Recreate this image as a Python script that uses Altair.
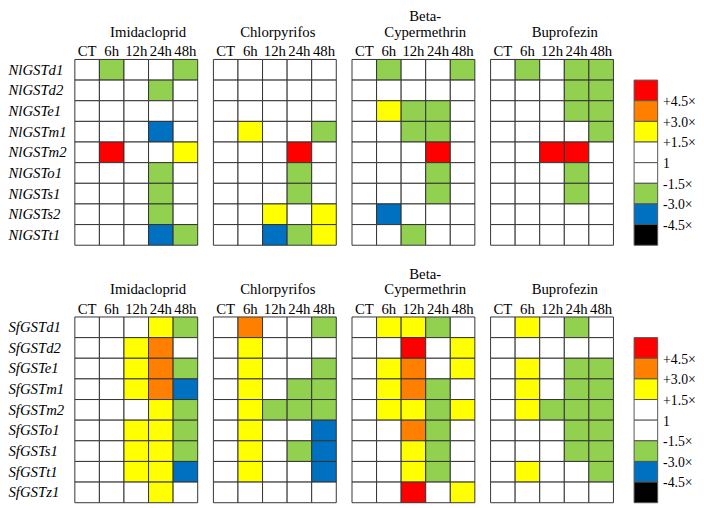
import json
import altair as alt
import pandas as pd

FONT = "Liberation Serif"

times = ["CT", "6h", "12h", "24h", "48h"]
treatment_titles = [["Imidacloprid"], ["Chlorpyrifos"], ["Beta-", "Cypermethrin"], ["Buprofezin"]]
title_dx = [12, 3, 12, 13]

nl_genes = ["NlGSTd1", "NlGSTd2", "NlGSTe1", "NlGSTm1", "NlGSTm2",
            "NlGSTo1", "NlGSTs1", "NlGSTs2", "NlGSTt1"]
sf_genes = ["SfGSTd1", "SfGSTd2", "SfGSTe1", "SfGSTm1", "SfGSTm2",
            "SfGSTo1", "SfGSTs1", "SfGSTt1", "SfGSTz1"]

# fold-change class per cell (CT, 6h, 12h, 24h, 48h):
# R >= +4.5x, O +3.0x, Y +1.5x, W unchanged, G -1.5x, B -3.0x, K -4.5x
nl_imidacloprid = ["WGWWG", "WWWGW", "WWWWW", "WWWBW", "WRWWY", "WWWGW", "WWWGW", "WWWGW", "WWWBG"]
nl_chlorpyrifos = ["WWWWW", "WWWWW", "WWWWW", "WYWWG", "WWWRW", "WWWGW", "WWWGW", "WWYWY", "WWBGY"]
nl_betacyper = ["WGWWG", "WWWWW", "WYGGW", "WWGGW", "WWWRW", "WWWGW", "WWWGW", "WBWWW", "WWGWW"]
nl_buprofezin = ["WGWGG", "WWWGG", "WWWGG", "WWWWG", "WWRRW", "WWWGW", "WWWGW", "WWWWW", "WWWWW"]

sf_imidacloprid = ["WWWYG", "WWYOW", "WWYOG", "WWYOB", "WWWYG", "WWYYG", "WWYYG", "WWYYB", "WWWYW"]
sf_chlorpyrifos = ["WOWWG", "WYWWW", "WYWWG", "WYWGG", "WYGGG", "WYWWB", "WYWGB", "WYWWB", "WWWWW"]
sf_betacyper = ["WYYGW", "WWRWY", "WYOWY", "WYOGW", "WYYGY", "WWOGW", "WWYGW", "WWYGW", "WWRWY"]
sf_buprofezin = ["WYWGW", "WWWWW", "WYWGG", "WYWGG", "WYGGG", "WWWGG", "WWWGG", "WYWWG", "WWWWW"]

class_codes = ["R", "O", "Y", "W", "G", "B", "K"]
class_colors = ["#FF0000", "#FF8000", "#FFFF00", "#FFFFFF", "#92D050", "#0070C0", "#000000"]

legend_codes = ["R", "O", "Y", "W", "W", "G", "B", "K"]
legend_labels = ["+4.5\u00d7", "+3.0\u00d7", "+1.5\u00d7", "1", "-1.5\u00d7", "-3.0\u00d7", "-4.5\u00d7"]

cscale = alt.Scale(domain=class_codes, range=class_colors)


def heat(genes, codes, title_lines, dx, first):
    rows = []
    for g, s in zip(genes, codes):
        for t, c in zip(times, s):
            rows.append({"gene": g, "time": t, "code": c})
    df = pd.DataFrame(rows)
    if first:
        yaxis = alt.Axis(title=None, orient="left", labelAlign="left", labelPadding=68,
                         labelFont=FONT, labelFontSize=15, labelFontStyle="italic",
                         labelColor="black", ticks=False, domain=False, labelOverlap=False)
    else:
        yaxis = None
    return alt.Chart(df).mark_rect(stroke="#333333", strokeWidth=1).encode(
        x=alt.X("time:N", sort=times, scale=alt.Scale(paddingInner=0, paddingOuter=0),
                axis=alt.Axis(title=None, orient="top", labelAngle=0, ticks=False, domain=False,
                              labelFont=FONT, labelFontSize=15, labelColor="black",
                              labelPadding=1, labelOverlap=False)),
        y=alt.Y("gene:N", sort=genes, scale=alt.Scale(paddingInner=0, paddingOuter=0), axis=yaxis),
        color=alt.Color("code:N", scale=cscale, legend=None),
    ).properties(
        width=125, height=189,
        title=alt.TitleParams(text=title_lines, font=FONT, fontSize=15, fontWeight="normal",
                              color="black", anchor="middle", lineHeight=16, offset=4, dx=dx),
    )


def legend_chart():
    n = len(legend_codes)
    df = pd.DataFrame({
        "start": list(range(n)),
        "end": list(range(1, n + 1)),
        "code": legend_codes,
        "col": ["k"] * n,
    })
    lab = ["", *legend_labels, ""]
    expr = json.dumps(lab, ensure_ascii=False) + "[datum.value]"
    return alt.Chart(df).mark_rect(stroke="#555555", strokeWidth=1).encode(
        x=alt.X("col:N", scale=alt.Scale(paddingInner=0, paddingOuter=0), axis=None),
        y=alt.Y("start:Q", scale=alt.Scale(domain=[-1, n], reverse=True, nice=False, zero=False),
                axis=alt.Axis(title=None, orient="right", values=list(range(1, n)), labelExpr=expr,
                              ticks=False, domain=False, grid=False, labelFont=FONT,
                              labelFontSize=14, labelColor="black", labelPadding=5,
                              labelOverlap=False, labelBaseline="middle", labelOffset=1)),
        y2="end:Q",
        color=alt.Color("code:N", scale=cscale, legend=None),
    ).properties(width=24, height=189)


def panel(genes, datasets):
    grids = [heat(genes, d, t, dx, i == 0)
             for i, (d, t, dx) in enumerate(zip(datasets, treatment_titles, title_dx))]
    inner = alt.hconcat(*grids, spacing=14)
    return alt.hconcat(inner, legend_chart(), spacing=19)


top = panel(nl_genes, [nl_imidacloprid, nl_chlorpyrifos, nl_betacyper, nl_buprofezin])
bottom = panel(sf_genes, [sf_imidacloprid, sf_chlorpyrifos, sf_betacyper, sf_buprofezin])

chart = alt.vconcat(top, bottom, spacing=21).properties(
    padding={"top": -3, "left": 0, "right": 0, "bottom": 0}, background="white"
).configure_view(stroke=None)

chart.save("out.html", embed_options={"renderer": "svg", "actions": False})
